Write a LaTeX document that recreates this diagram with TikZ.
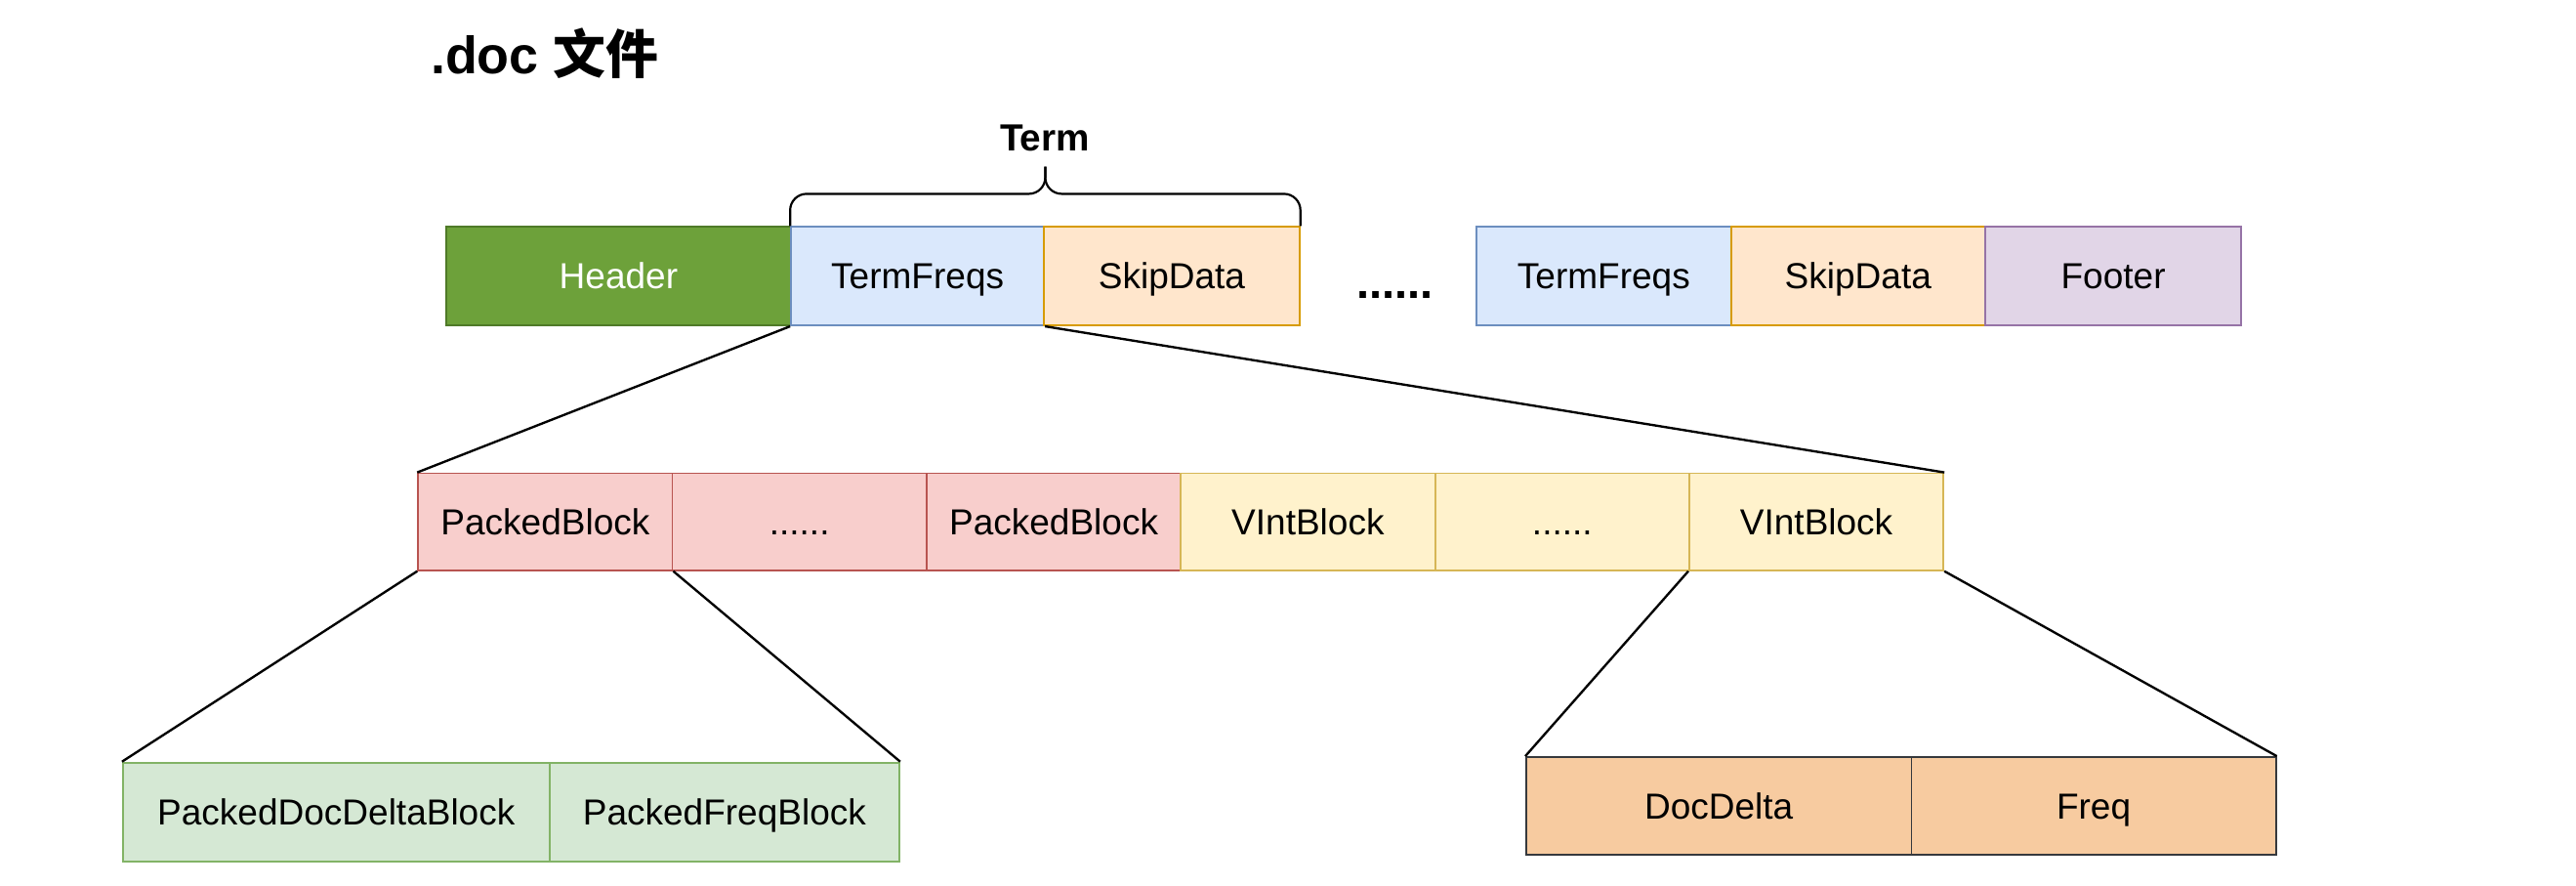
\documentclass[tikz,border=0pt]{standalone}
\usepackage{fontspec}
\usetikzlibrary{calc}
\setmainfont{Liberation Sans}
\newfontfamily\cjk{Noto Sans CJK SC}
\begin{document}
\begin{tikzpicture}[x=1pt,y=-1pt,
  cell/.style={draw, rectangle, line width=1.1pt, inner sep=0pt, font=\fontsize{22}{26}\selectfont, text height=15.75pt, text depth=0pt},
  hdr/.style={cell, fill=hdrfill, draw=hdrline, text=white},
  blu/.style={cell, fill=blufill, draw=bluline},
  org/.style={cell, fill=orgfill, draw=orgline},
  pur/.style={cell, fill=purfill, draw=purline},
  redc/.style={cell, fill=redfill, draw=redline},
  yel/.style={cell, fill=yelfill, draw=yelline},
  grn/.style={cell, fill=grnfill, draw=grnline},
  tan/.style={cell, fill=tanfill, draw=tanline},
  link/.style={draw=black, line width=1.4pt},
]
\definecolor{hdrfill}{HTML}{6DA13A}
\definecolor{hdrline}{HTML}{4F7A28}
\definecolor{blufill}{HTML}{DAE8FC}
\definecolor{bluline}{HTML}{6C8EBF}
\definecolor{orgfill}{HTML}{FFE6CC}
\definecolor{orgline}{HTML}{D79B00}
\definecolor{purfill}{HTML}{E1D5E7}
\definecolor{purline}{HTML}{9673A6}
\definecolor{redfill}{HTML}{F8CECC}
\definecolor{redline}{HTML}{B85450}
\definecolor{yelfill}{HTML}{FFF2CC}
\definecolor{yelline}{HTML}{D6B656}
\definecolor{grnfill}{HTML}{D5E8D4}
\definecolor{grnline}{HTML}{82B366}
\definecolor{tanfill}{HTML}{F7CBA0}
\definecolor{tanline}{HTML}{36393D}

\fill[white] (0,0) rectangle (1568,539);
\useasboundingbox (0,0) rectangle (1568,539);

% title
\node[anchor=base west, inner sep=0pt, font=\fontsize{32}{36}\selectfont\bfseries] (title) at (262,45) {.doc {\cjk\bfseries 文件}};

% top row
\node[hdr, minimum width=210pt, minimum height=60pt] (header) at (376.5,168) {Header};
\node[blu, minimum width=154pt, minimum height=60pt] (tf1) at (558.5,168) {TermFreqs};
\node[org, minimum width=155.5pt, minimum height=60pt] (sd1) at (713.25,168) {SkipData};
\node[anchor=base, inner sep=0pt, font=\fontsize{28}{30}\selectfont\bfseries] (dots1) at (849,181.5) {......};
\node[blu, minimum width=155pt, minimum height=60pt] (tf2) at (976.2,168) {TermFreqs};
\node[org, minimum width=154.8pt, minimum height=60pt] (sd2) at (1131,168) {SkipData};
\node[pur, minimum width=155.7pt, minimum height=60pt] (footer) at (1286.3,168) {Footer};

% brace and Term label
\coordinate (bracetip) at ($(tf1.north west)!0.5!(sd1.north east) + (0,-36)$);
\draw[line width=1.3pt, rounded corners=10pt] (tf1.north west) -- ++(0,-19.5) -| (bracetip);
\draw[line width=1.3pt, rounded corners=10pt] (sd1.north east) -- ++(0,-19.5) -| (bracetip);
\node[anchor=base, inner sep=0pt, font=\fontsize{23}{26}\selectfont\bfseries] (term) at (636,91.7) {Term};

% middle row
\node[redc, minimum width=154.75pt, minimum height=59pt] (pb1) at (331.9,317.5) {PackedBlock};
\node[redc, minimum width=154.75pt, minimum height=59pt] (pdots) at (486.6,317.5) {......};
\node[redc, minimum width=154.75pt, minimum height=59pt] (pb2) at (641.4,317.5) {PackedBlock};
\node[yel, minimum width=154.75pt, minimum height=59pt] (vb1) at (796.1,317.5) {VIntBlock};
\node[yel, minimum width=154.75pt, minimum height=59pt] (vdots) at (950.9,317.5) {......};
\node[yel, minimum width=154.75pt, minimum height=59pt] (vb2) at (1105.6,317.5) {VIntBlock};

% bottom left
\node[grn, minimum width=259.7pt, minimum height=60pt] (pdd) at (204.65,494) {PackedDocDeltaBlock};
\node[grn, minimum width=212.9pt, minimum height=60pt] (pfb) at (440.95,494) {PackedFreqBlock};

% bottom right
\node[tan, minimum width=234.5pt, minimum height=59.3pt] (dd) at (1046.25,490.3) {DocDelta};
\node[tan, minimum width=221.8pt, minimum height=59.3pt] (fq) at (1274.4,490.3) {Freq};

% connectors
\draw[link] (tf1.south west) -- (pb1.north west);
\draw[link] (tf1.south east) -- (vb2.north east);
\draw[link] (pb1.south west) -- (pdd.north west);
\draw[link] (pb1.south east) -- (pfb.north east);
\draw[link] (vb2.south west) -- (dd.north west);
\draw[link] (vb2.south east) -- (fq.north east);
\end{tikzpicture}
\end{document}
